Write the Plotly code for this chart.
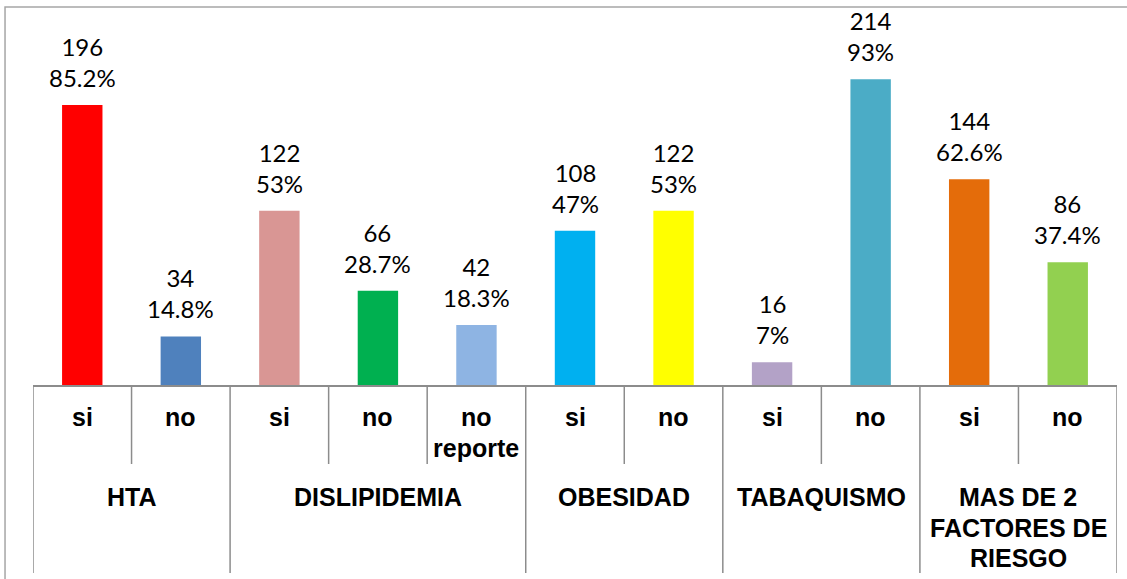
import plotly.graph_objects as go

# datos del grafico
grupos = ["HTA", "HTA", "DISLIPIDEMIA", "DISLIPIDEMIA", "DISLIPIDEMIA",
          "OBESIDAD", "OBESIDAD", "TABAQUISMO", "TABAQUISMO",
          "MAS DE 2<br>FACTORES DE<br>RIESGO", "MAS DE 2<br>FACTORES DE<br>RIESGO"]
respuestas = ["si", "no", "si", "no", "no<br>reporte", "si", "no", "si", "no", "si", "no"]
casos = [196, 34, 122, 66, 42, 108, 122, 16, 214, 144, 86]
porcentajes = ["85.2%", "14.8%", "53%", "28.7%", "18.3%", "47%", "53%", "7%", "93%", "62.6%", "37.4%"]
colores = ["#FF0000", "#4F81BD", "#D99694", "#00B050", "#8EB4E3", "#00B0F0",
           "#FFFF00", "#B3A2C7", "#4BACC6", "#E46C0A", "#92D050"]

pos = list(range(len(casos)))
linea = "#8c8c8c"
alto_plot = 360  # alto del area de trazado en px
paso = 30.5      # separacion entre lineas de texto de categoria
fuente_cat = dict(family="Liberation Sans", size=25, color="#000000")


def y_px(px):
    # px por debajo del eje -> coordenada paper
    return -px / alto_plot


fig = go.Figure(go.Bar(
    x=pos,
    y=casos,
    marker_color=colores,
    marker_line_width=0,
    width=0.41,
    hoverinfo="skip",
))

# etiquetas de datos sobre cada barra
for i, (c, p) in enumerate(zip(casos, porcentajes)):
    fig.add_annotation(x=i, y=c, text=f"{c}<br>{p}", showarrow=False,
                       yanchor="bottom", yshift=11,
                       font=dict(family="Lato", size=24, color="#000000"))

# etiquetas de subcategoria
for i, r in enumerate(respuestas):
    for k, parte in enumerate(r.split("<br>")):
        fig.add_annotation(x=i, y=y_px(32 + k * paso), yref="paper", text=f"<b>{parte}</b>",
                           showarrow=False, yanchor="middle", font=fuente_cat)

# grupos: limites y etiquetas
inicio = 0
limites = [-0.5]
for i in range(1, len(grupos) + 1):
    if i == len(grupos) or grupos[i] != grupos[inicio]:
        centro = (inicio + i - 1) / 2
        for k, parte in enumerate(grupos[inicio].split("<br>")):
            fig.add_annotation(x=centro, y=y_px(112 + k * paso), yref="paper",
                               text=f"<b>{parte}</b>", showarrow=False,
                               yanchor="middle", font=fuente_cat)
        limites.append(i - 0.5)
        inicio = i

for i in range(len(casos) + 1):
    xb = i - 0.5
    largo = y_px(188) if xb in limites else y_px(79)
    fig.add_shape(type="line", xref="x", yref="paper", x0=xb, x1=xb, y0=0, y1=largo,
                  line=dict(color=linea, width=1.5))

# marco del grafico
fig.add_shape(type="rect", xref="paper", yref="paper", x0=-0.0258, x1=1.2, y0=-1, y1=1.05,
              line=dict(color="#a6a6a6", width=1.5), layer="below")

fig.update_xaxes(range=[-0.5, len(casos) - 0.5], showticklabels=False, showgrid=False,
                 zeroline=False, showline=True, linecolor=linea, linewidth=1.5, ticks="")
fig.update_yaxes(range=[0, 252], visible=False)

fig.update_layout(
    width=1127, height=579,
    margin=dict(l=33, r=10, t=25, b=194, autoexpand=False),
    plot_bgcolor="white", paper_bgcolor="white",
    showlegend=False,
)

# sin margen de pagina para que la figura empiece en 0,0
fig.write_html("out.html", config={"displayModeBar": False},
               post_script="document.body.style.margin='0';")
